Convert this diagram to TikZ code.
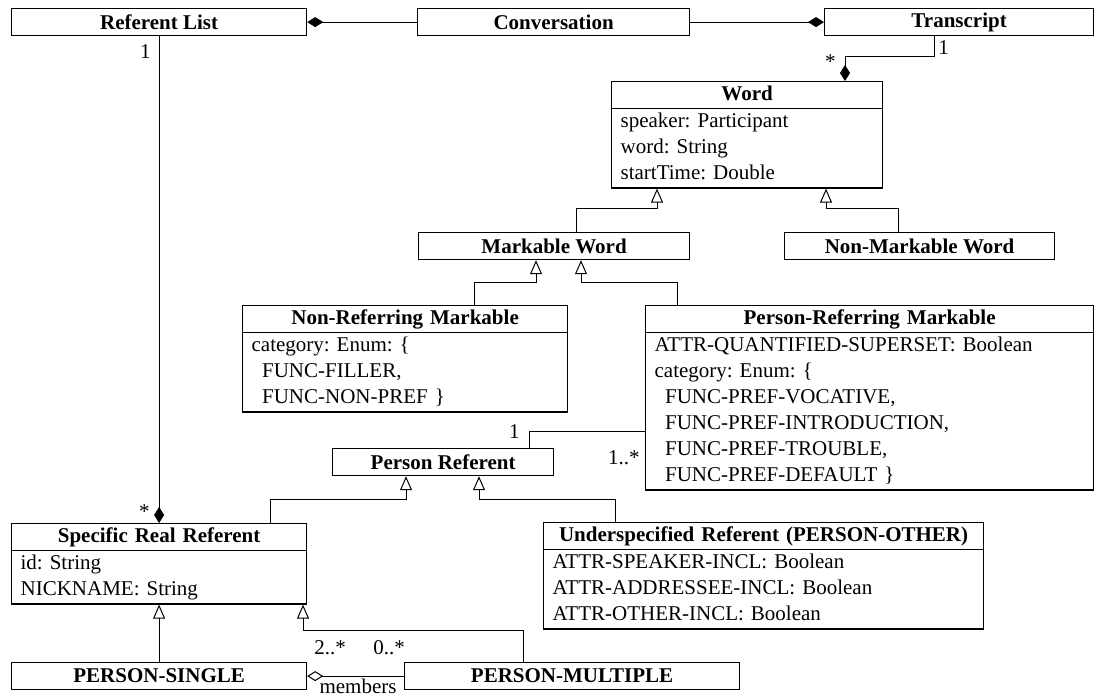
\documentclass[tikz,border=0pt]{standalone}
\usepackage{fontspec}
\setmainfont{Liberation Serif}
\usepackage{tikz}
\usetikzlibrary{shapes.multipart, arrows.meta, positioning}
\setlength{\parindent}{0pt}
\frenchspacing
\newcommand{\diagfont}{\fontsize{10.5}{13}\selectfont}
\newcommand{\classhead}[1]{\hfill\textbf{#1}\hfill\strut}
\tikzset{
  classbox/.style={rectangle, draw, minimum width=#1, minimum height=13.5pt,
    inner sep=0pt, font=\diagfont\bfseries, line width=0.6pt},
  umlclass/.style={rectangle split, rectangle split parts=2, draw,
    text width=#1, inner xsep=4.5pt, inner ysep=0pt, align=left,
    font=\diagfont, line width=0.6pt},
  mult/.style={font=\diagfont, inner sep=1pt},
  genarrow/.style={-{Triangle[open, length=7pt, width=6pt]}, line width=0.5pt},
  comparrow/.style={-{Diamond[length=8pt, width=5pt]}, line width=0.5pt},
  aggrarrow/.style={-{Diamond[open, length=8pt, width=5pt]}, line width=0.5pt},
  line/.style={line width=0.5pt}
}

\begin{document}
\begin{tikzpicture}[x=0.5pt, y=-0.5pt]
  \useasboundingbox (0,0) rectangle (1095,695);

  % Top row
  \node[classbox=147.5pt, anchor=north west] (reflist) at (11,8) {Referent List};
  \node[classbox=136pt, anchor=north west] (conv) at (417,8) {Conversation};
  \node[classbox=134.5pt, anchor=north west] (transcript) at (824,8) {Transcript};

  % Word hierarchy
  \node[umlclass=126.5pt, anchor=north west] (word) at (611,81)
    {\classhead{Word}
     \nodepart{two}\strut speaker: Participant\\word: String\\startTime: Double\strut};
  \node[classbox=135.5pt, anchor=north west] (markw) at (418,232) {Markable Word};
  \node[classbox=135pt, anchor=north west] (nonmarkw) at (784,232) {Non-Markable Word};

  \node[umlclass=153.5pt, anchor=north west] (nonref) at (242,305)
    {\classhead{Non-Referring Markable}
     \nodepart{two}\strut category: Enum: \{\\
     \hspace*{0.5em}FUNC-FILLER,\\
     \hspace*{0.5em}FUNC-NON-PREF \}\strut};
  \node[umlclass=215pt, anchor=north west] (prefm) at (645,305)
    {\classhead{Person-Referring Markable}
     \nodepart{two}\strut ATTR-QUANTIFIED-SUPERSET: Boolean\\
     category: Enum: \{\\
     \hspace*{0.5em}FUNC-PREF-VOCATIVE,\\
     \hspace*{0.5em}FUNC-PREF-INTRODUCTION,\\
     \hspace*{0.5em}FUNC-PREF-TROUBLE,\\
     \hspace*{0.5em}FUNC-PREF-DEFAULT \}\strut};

  % Referents
  \node[classbox=110.5pt, anchor=north west] (persref) at (332,448) {Person Referent};
  \node[umlclass=138.5pt, anchor=north west] (specific) at (11,523)
    {\classhead{Specific Real Referent}
     \nodepart{two}\strut id: String\\NICKNAME: String\strut};
  \node[umlclass=211pt, anchor=north west] (underspec) at (543,522)
    {\classhead{Underspecified Referent (PERSON-OTHER)}
     \nodepart{two}\strut ATTR-SPEAKER-INCL: Boolean\\
     ATTR-ADDRESSEE-INCL: Boolean\\
     ATTR-OTHER-INCL: Boolean\strut};
  \node[classbox=147.5pt, anchor=north west] (single) at (11,662) {PERSON-SINGLE};
  \node[classbox=167.5pt, anchor=north west] (multiple) at (404,662) {PERSON-MULTIPLE};

  % Composition
  \draw[comparrow] (conv.west) -- (reflist.east);
  \draw[comparrow] (conv.east) -- (transcript.west);
  \draw[comparrow] (transcript.south -| 934,0) |- (845,57) -- (word.north -| 845,0);
  \draw[comparrow] (reflist.south) -- (specific.north);

  % Generalization
  \draw[genarrow] (markw.north -| 576,0) |- (657,208) -- (word.south -| 657,0);
  \draw[genarrow] (nonmarkw.north -| 898,0) |- (826,208) -- (word.south -| 826,0);
  \draw[genarrow] (nonref.north -| 474,0) |- (536,282) -- (markw.south -| 536,0);
  \draw[genarrow] (prefm.north -| 677,0) |- (581,282) -- (markw.south -| 581,0);
  \draw[genarrow] (specific.north -| 270,0) |- (406,499) -- (persref.south -| 406,0);
  \draw[genarrow] (underspec.north -| 615,0) |- (479,499) -- (persref.south -| 479,0);
  \draw[genarrow] (single.north) -- (specific.south);
  \draw[genarrow] (multiple.north -| 523,0) |- (303,630) -- (specific.south -| 303,0);

  % Associations
  \draw[line] (persref.north -| 529,0) |- (prefm.west |- 0,431);
  \draw[aggrarrow] (multiple.west) -- (single.east);

  % Multiplicities
  \node[mult, anchor=east] (rlone) at (153,52) {1};
  \node[mult, anchor=east] (rlmany) at (152,512) {*};
  \node[mult, anchor=west] (trone) at (936,48) {1};
  \node[mult, anchor=east] (trmany) at (838,62) {*};
  \node[mult, anchor=east] (prone) at (522,432) {1};
  \node[mult, anchor=east] (prmany) at (642,458) {1..*};
  \node[mult] (smany) at (330,648) {2..*};
  \node[mult] (mmany) at (389,648) {0..*};
  \node[mult] (members) at (358,686) {members};
\end{tikzpicture}
\end{document}
